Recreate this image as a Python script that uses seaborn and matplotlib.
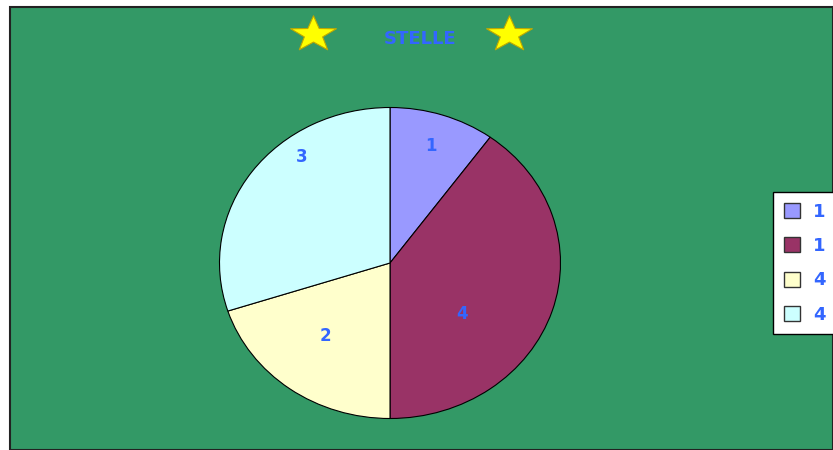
import matplotlib
matplotlib.use("Agg")
import numpy as np
import matplotlib.pyplot as plt
from matplotlib.patches import Rectangle
from matplotlib.path import Path
import seaborn as sns

# Chart data
slice_values = [1, 4, 2, 3]
legend_labels = ["1", "1", "4", "4"]
slice_colors = ["#9999FF", "#993366", "#FFFFCC", "#CCFFFF"]
title_text = "STELLE"

# Slice label anchors (x, y) inside the unit pie
label_positions = [(0.24, 0.75), (0.42, -0.33), (-0.38, -0.47), (-0.52, 0.68)]

sns.set_theme(style="white")
plt.rcParams["font.family"] = ["DejaVu Sans"]

W, H = 833, 450
fig = plt.figure(figsize=(W / 100, H / 100), dpi=100)
fig.patch.set_facecolor("white")

TEXT_BLUE = "#3366FF"
GREEN = "#339966"

# Green plot area with dark border on the visible edges
fig.patches.append(Rectangle((10 / W, 0), 1 - 10 / W, 1 - 7 / H,
                             transform=fig.transFigure, facecolor=GREEN,
                             edgecolor="#222222", linewidth=1.5, zorder=-5))

# Pie axes (elliptical pie: aspect left free)
cx, cy, rx, ry = 390, 263, 170.5, 155.5
ax = fig.add_axes([(cx - rx) / W, (H - cy - ry) / H, 2 * rx / W, 2 * ry / H])
ax.set_facecolor("none")
wedges, _ = ax.pie(slice_values, colors=slice_colors, startangle=90,
                   counterclock=False, radius=1.0,
                   wedgeprops=dict(edgecolor="black", linewidth=0.8))
ax.set_aspect("auto")
ax.set_xlim(-1.0, 1.0)
ax.set_ylim(-1.0, 1.0)
ax.axis("off")

for val, (lx, ly) in zip(slice_values, label_positions):
    ax.text(lx, ly, str(val), ha="center", va="center", color=TEXT_BLUE,
            fontsize=12, fontweight="bold")

# Title with stars on either side
fig.text(420 / W, 1 - 39 / H, title_text, ha="center", va="center",
         color=TEXT_BLUE, fontsize=13, fontweight="bold")

# A slightly flattened five-pointed star marker
ang = np.pi / 2 + np.arange(10) * np.pi / 5
rad = np.where(np.arange(10) % 2 == 0, 1.0, 0.40)
verts = np.column_stack([rad * np.cos(ang), rad * np.sin(ang) * 0.78 + 0.08])
verts = np.vstack([verts, verts[:1]])
star_marker = Path(verts, closed=True)

star_ax = fig.add_axes([0, 0, 1, 1])
star_ax.set_xlim(0, W)
star_ax.set_ylim(H, 0)
star_ax.axis("off")
star_ax.patch.set_visible(False)
star_ax.plot([313, 509], [36, 36], linestyle="none", marker=star_marker,
             markersize=33, markerfacecolor="#FFFF00",
             markeredgecolor="#BFA800", markeredgewidth=0.8)

# Legend box
handles = [Rectangle((0, 0), 1, 1, facecolor=c, edgecolor="#333333", linewidth=1)
           for c in slice_colors]
leg = fig.legend(handles, legend_labels, loc="upper left",
                 bbox_to_anchor=(773 / W, 1 - 192 / H), borderaxespad=0,
                 frameon=True, fancybox=False, edgecolor="black",
                 facecolor="white", framealpha=1, borderpad=0.6,
                 handlelength=0.9, handleheight=0.9, handletextpad=0.7,
                 labelspacing=0.9, prop=dict(size=13, weight="bold"))
leg.get_frame().set_linewidth(1.0)
for t in leg.get_texts():
    t.set_color(TEXT_BLUE)

fig.savefig("out.png", dpi=100, facecolor=fig.get_facecolor())
